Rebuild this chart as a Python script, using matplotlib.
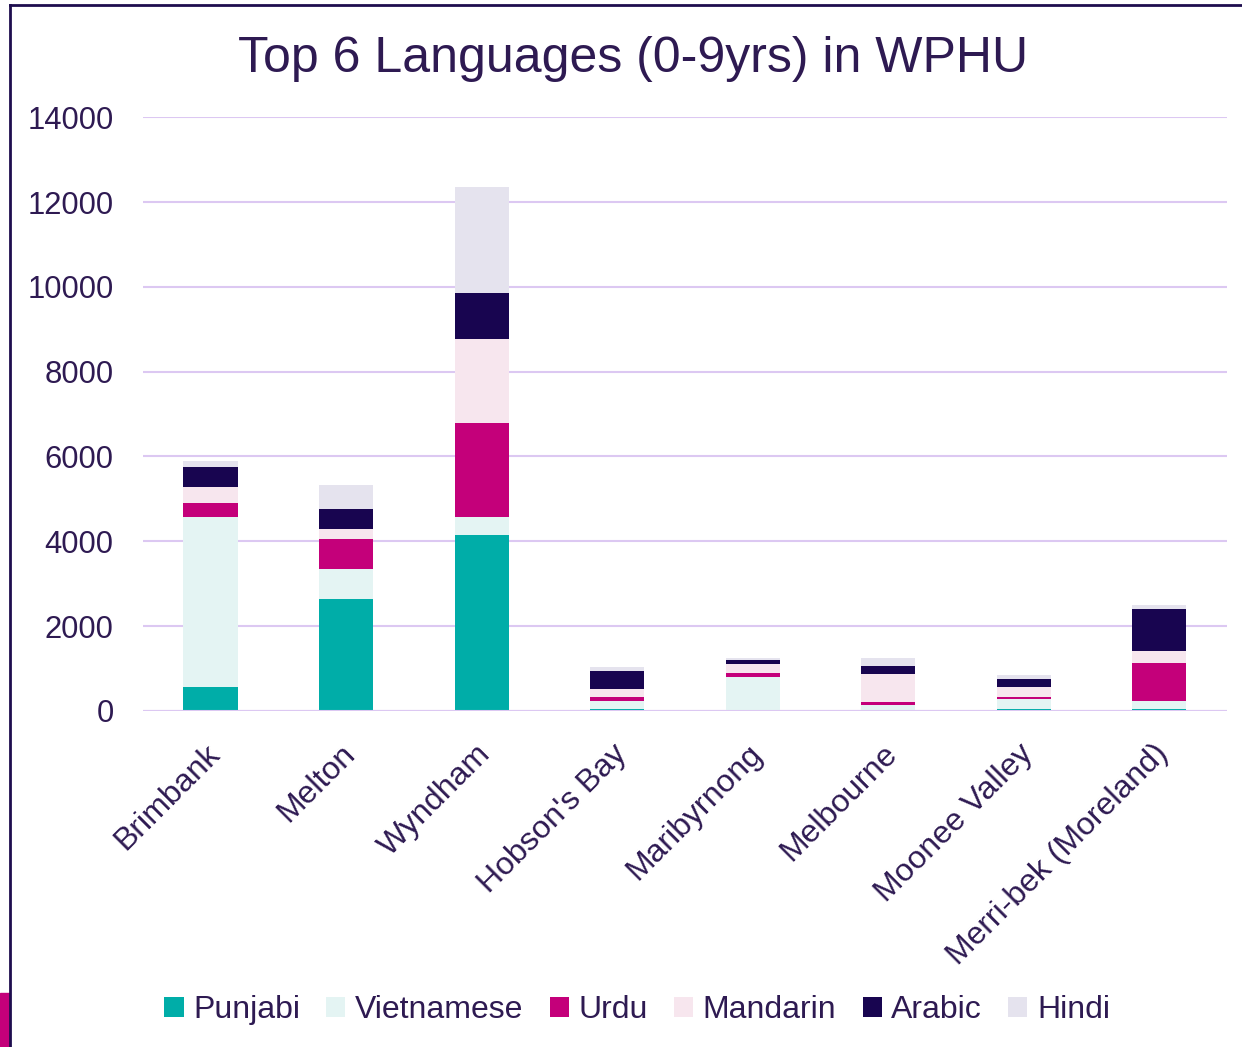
import matplotlib.pyplot as plt
import numpy as np
from matplotlib.lines import Line2D
from matplotlib.patches import Rectangle
from matplotlib.transforms import ScaledTranslation

plt.rcParams["font.family"] = ["Liberation Sans", "DejaVu Sans"]

areas = ["Brimbank", "Melton", "Wyndham", "Hobson's Bay", "Maribyrnong",
         "Melbourne", "Moonee Valley", "Merri-bek (Moreland)"]
languages = ["Punjabi", "Vietnamese", "Urdu", "Mandarin", "Arabic", "Hindi"]

punjabi = [565, 2640, 4150, 50, 10, 10, 50, 50]
vietnamese = [4005, 705, 425, 190, 800, 140, 235, 190]
urdu = [330, 705, 2215, 95, 95, 50, 50, 895]
mandarin = [375, 235, 1980, 190, 190, 660, 235, 285]
arabic = [470, 470, 1085, 425, 95, 190, 190, 990]
hindi = [140, 565, 2495, 95, 50, 190, 95, 95]

colors = ["#00ADA8", "#E4F4F3", "#C4007A", "#F7E6EE", "#180550", "#E5E3EE"]
text_color = "#2E1A52"
grid_color = "#DCC8F2"

series = [punjabi, vietnamese, urdu, mandarin, arabic, hindi]

fig = plt.figure(figsize=(12.42, 10.47), dpi=100)
ax = fig.add_axes([0.115, 0.321, 0.873, 0.567])

x = np.arange(len(areas))
bottom = np.zeros(len(areas))
for name, vals, c in zip(languages, series, colors):
    ax.bar(x, vals, 0.4, bottom=bottom, color=c, label=name, zorder=3)
    bottom += np.array(vals)

ax.set_xlim(-0.5, len(areas) - 0.5)
ax.set_ylim(0, 14000)
ax.set_yticks(range(0, 14001, 2000))
ax.yaxis.grid(True, color=grid_color, linewidth=1.5, zorder=0)
ax.tick_params(axis="y", length=0, pad=21, labelsize=22.3, labelcolor=text_color)
ax.tick_params(axis="x", length=0, pad=20, labelsize=23, labelcolor=text_color)
ax.set_xticks(x)
ax.set_xticklabels(areas, rotation=45, ha="right", rotation_mode="anchor")
shift = ScaledTranslation(-6 / 100, 0, fig.dpi_scale_trans)
for lbl in ax.get_xticklabels():
    lbl.set_transform(lbl.get_transform() + shift)
for s in ax.spines.values():
    s.set_visible(False)
ax.axhline(0, color=grid_color, linewidth=1.5, zorder=4)

fig.suptitle("Top 6 Languages (0-9yrs) in WPHU", x=0.51, y=0.944, va="center",
             fontsize=36, color=text_color)

ax.legend(loc="center", bbox_to_anchor=(0.513, 0.035), bbox_transform=fig.transFigure,
          ncol=6, frameon=False, fontsize=23, labelcolor=text_color,
          handlelength=0.6, handleheight=0.6, handletextpad=0.3, columnspacing=0.82)

# slide frame decorations
fig.add_artist(Line2D([10 / 1242, 10 / 1242], [0, 1 - 5 / 1047], color="#1E0D4E", linewidth=2))
fig.add_artist(Line2D([10 / 1242, 1], [1 - 5 / 1047, 1 - 5 / 1047], color="#1E0D4E", linewidth=2))
fig.add_artist(Rectangle((0, 0), 9 / 1242, 54 / 1047, transform=fig.transFigure,
                         color="#C4007A", zorder=0))

plt.savefig("out.png", dpi=100)
